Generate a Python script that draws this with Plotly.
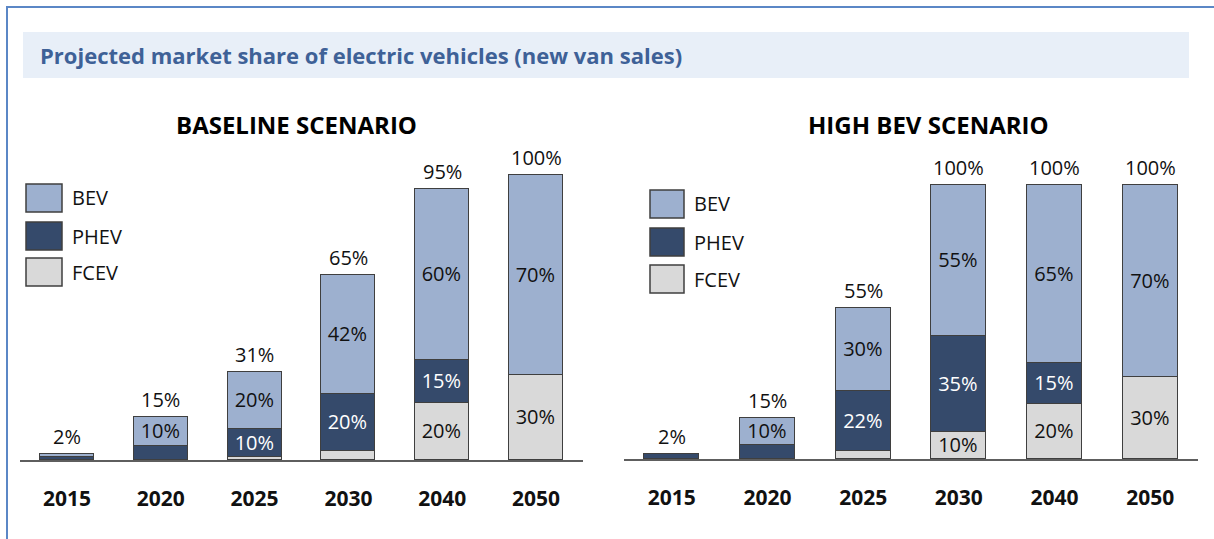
import plotly.graph_objects as go

# ---------------- data ----------------
years = ["2015", "2020", "2025", "2030", "2040", "2050"]
series = ["BEV", "PHEV", "FCEV"]

base_bev = [1, 10, 20, 42, 60, 70]
base_phev = [1, 5, 10, 20, 15, 0]
base_fcev = [0, 0, 1, 3, 20, 30]
base_total = [2, 15, 31, 65, 95, 100]

high_bev = [0, 10, 30, 55, 65, 70]
high_phev = [2, 5, 22, 35, 15, 0]
high_fcev = [0, 0, 3, 10, 20, 30]
high_total = [2, 15, 55, 100, 100, 100]

title_text = "Projected market share of electric vehicles (new van sales)"
panel_titles = ["BASELINE SCENARIO", "HIGH BEV SCENARIO"]

# ---------------- style ----------------
W, H = 1214, 539
FONT = "Open Sans"
colors = {"BEV": "#9DB0CF", "PHEV": "#354A6B", "FCEV": "#D9D9D9"}
text_colors = {"BEV": "#111111", "PHEV": "#FFFFFF", "FCEV": "#111111"}
edge = "#3F3F3F"


def px(x):
    return x / W


def py(y):
    return 1 - y / H


def nz(vals):
    return [v if v else None for v in vals]


def labels(vals):
    return [f"{v}%" if v and v >= 10 else "" for v in vals]


fig = go.Figure()

panels = [
    ("x", "y", base_bev, base_phev, base_fcev, base_total),
    ("x2", "y2", high_bev, high_phev, high_fcev, high_total),
]

for xa, ya, bev, phev, fcev, tot in panels:
    for name, vals in (("FCEV", fcev), ("PHEV", phev), ("BEV", bev)):
        fig.add_trace(go.Bar(
            x=years, y=nz(vals), name=name, xaxis=xa, yaxis=ya,
            width=0.575,
            marker=dict(color=colors[name], line=dict(color=edge, width=1.3)),
            text=labels(vals), textposition="inside", insidetextanchor="middle",
            textangle=0, constraintext="none",
            textfont=dict(family=FONT, size=20, color=text_colors[name]),
            showlegend=False, hoverinfo="skip",
        ))
    for i, t in enumerate(tot):
        fig.add_annotation(
            x=i, y=t, xref=xa, yref=ya, text=f"{t}%", showarrow=False,
            yanchor="bottom", yshift=2,
            font=dict(family=FONT, size=20, color="#111111"),
        )

axis_common = dict(
    type="category", range=[-0.5, 5.5], showline=True, linecolor="#5E5E5E",
    linewidth=2, ticks="", showgrid=False, zeroline=False,
    tickfont=dict(family=FONT, size=21, color="#111111", weight="bold"),
    ticklabelstandoff=19, fixedrange=True,
)

fig.update_layout(
    width=W, height=H, autosize=False,
    margin=dict(l=0, r=0, t=0, b=0),
    paper_bgcolor="white", plot_bgcolor="rgba(0,0,0,0)",
    barmode="stack", bargap=0,
    xaxis=dict(domain=[px(20), px(583)], anchor="y", **axis_common),
    xaxis2=dict(domain=[px(624), px(1198)], anchor="y2", **axis_common),
    yaxis=dict(domain=[py(460), py(146)], range=[0, 314 / 2.85], visible=False,
               fixedrange=True),
    yaxis2=dict(domain=[py(459), py(146)], range=[0, 313 / 2.74], visible=False,
                fixedrange=True),
)

shapes = []
# outer frame
shapes.append(dict(type="rect", xref="paper", yref="paper",
                   x0=px(7), x1=px(1230), y0=py(7), y1=py(560),
                   line=dict(color="#5B87C6", width=2), fillcolor="rgba(0,0,0,0)",
                   layer="below"))
# title band
shapes.append(dict(type="rect", xref="paper", yref="paper",
                   x0=px(23), x1=px(1189), y0=py(32), y1=py(78),
                   line=dict(width=0), fillcolor="#E8EFF8", layer="below"))

annotations = [
    dict(x=px(38), y=py(55), xref="paper", yref="paper", text=title_text,
         showarrow=False, xanchor="left", yanchor="middle",
         font=dict(family=FONT, size=22, color="#3E6197", weight="bold")),
    dict(x=px(296), y=py(125), xref="paper", yref="paper", text=panel_titles[0],
         showarrow=False, xanchor="center", yanchor="middle",
         font=dict(family=FONT, size=24, color="#000000", weight="bold")),
    dict(x=px(928), y=py(125), xref="paper", yref="paper", text=panel_titles[1],
         showarrow=False, xanchor="center", yanchor="middle",
         font=dict(family=FONT, size=24, color="#000000", weight="bold")),
]

# legends (one per panel)
legend_pos = [
    (26, 62, [184, 222, 258], 70),
    (650, 684, [190, 228, 265], 692),
]
for x0, x1, tops, tx in legend_pos:
    for name, top in zip(series, tops):
        shapes.append(dict(type="rect", xref="paper", yref="paper",
                           x0=px(x0), x1=px(x1), y0=py(top), y1=py(top + 28),
                           line=dict(color=edge, width=1.5),
                           fillcolor=colors[name]))
        annotations.append(dict(x=px(tx), y=py(top + 14), xref="paper", yref="paper",
                                text=name, showarrow=False, xanchor="left",
                                yanchor="middle",
                                font=dict(family=FONT, size=20, color="#111111")))

fig.update_layout(shapes=shapes)
for a in annotations:
    fig.add_annotation(**a)

fig.write_html("out.html",
               config={"displayModeBar": False},
               post_script="document.body.style.margin='0';"
                           "document.body.style.padding='0';")
